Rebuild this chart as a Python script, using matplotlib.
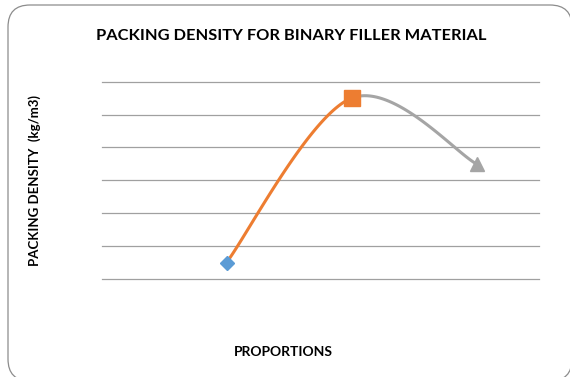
import numpy as np
import matplotlib
matplotlib.use("Agg")
import matplotlib.pyplot as plt
from matplotlib.patches import FancyBboxPatch

# proportions of the finer filler and the measured packing density
proportions = [0.2, 0.4, 0.6]
density = [1650, 2150, 1950]
marker_colors = ["#5B9BD5", "#ED7D31", "#A5A5A5"]
marker_shapes = ["D", "s", "^"]
marker_sizes = [7.5, 11, 10]

FONT = ["Lato", "DejaVu Sans"]


def smooth_curve(xs, ys, n=60):
    """Bezier smoothing through the points, one segment per pair."""
    pts = np.column_stack([xs, ys]).astype(float)
    padded = np.vstack([pts[0], pts, pts[-1]])
    segs = []
    for i in range(len(pts) - 1):
        p0, p1 = pts[i], pts[i + 1]
        c1 = p0 + (padded[i + 2] - padded[i]) / 6.0
        c2 = p1 - (padded[i + 3] - padded[i + 1]) / 6.0
        t = np.linspace(0, 1, n)[:, None]
        seg = ((1 - t) ** 3 * p0 + 3 * (1 - t) ** 2 * t * c1
               + 3 * (1 - t) * t ** 2 * c2 + t ** 3 * p1)
        segs.append(seg)
    return segs


fig = plt.figure(figsize=(5.7, 3.77), dpi=100)

# rounded chart border (inches), runs slightly off the right and bottom edges
border = FancyBboxPatch((0.08, -0.04), 5.64, 3.76,
                        boxstyle="round,pad=0,rounding_size=0.22",
                        transform=fig.dpi_scale_trans, facecolor="white",
                        edgecolor="#8C8C8C", linewidth=0.9, zorder=-1)
fig.patches.append(border)

ax = fig.add_axes([101.5 / 570, 1 - 279 / 377, 437.5 / 570, (279 - 81.7) / 377])
ax.set_facecolor("none")

segs = smooth_curve(proportions, density)
seg_colors = ["#ED7D31", "#A5A5A5"]
for seg, c in zip(segs, seg_colors):
    ax.plot(seg[:, 0], seg[:, 1], color=c, lw=2.2, solid_capstyle="round", zorder=3)

for x, y, c, m, s in zip(proportions, density, marker_colors, marker_shapes, marker_sizes):
    ax.plot(x, y, marker=m, color=c, markersize=s, linestyle="none", zorder=4)

ax.set_xlim(0, 0.7)
ax.set_ylim(1600, 2200)
ax.set_yticks(np.arange(1600, 2201, 100))
ax.yaxis.grid(True, color="#A0A0A0", linewidth=0.9)
for gl in ax.get_ygridlines():
    gl.set_clip_on(False)
ax.set_axisbelow(True)
ax.tick_params(left=False, bottom=False, labelleft=False, labelbottom=False)
for sp in ax.spines.values():
    sp.set_visible(False)

fig.text(291 / 570, 1 - 36 / 377, "PACKING DENSITY FOR BINARY FILLER MATERIAL",
         ha="center", va="center", fontsize=11.8, fontweight="bold", family=FONT)
fig.text(35 / 570, 1 - 180 / 377, "PACKING DENSITY  (kg/m3)", rotation=90,
         ha="center", va="center", fontsize=9.5, fontweight="bold", family=FONT)
fig.text(283 / 570, 1 - 352 / 377, "PROPORTIONS",
         ha="center", va="center", fontsize=10, fontweight="bold", family=FONT)

fig.savefig("out.png", dpi=100)
